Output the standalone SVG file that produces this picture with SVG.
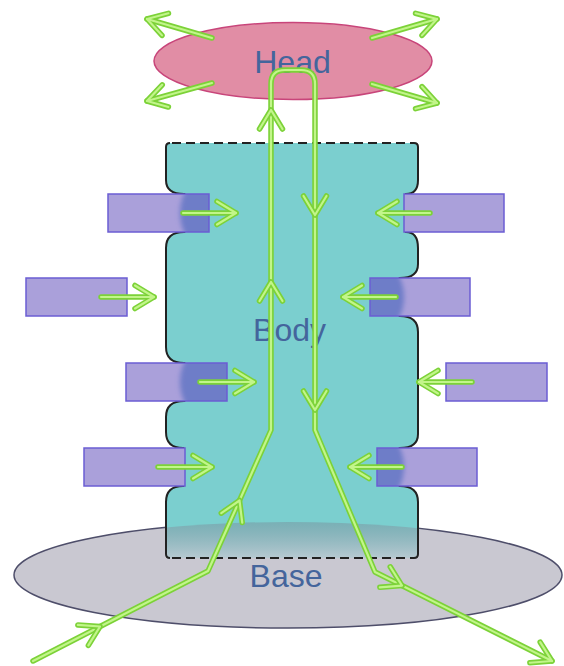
<svg xmlns="http://www.w3.org/2000/svg" xmlns:xlink="http://www.w3.org/1999/xlink" width="564" height="666" viewBox="0 0 564 666">
<style>
.g1{fill:none;stroke:#7cd238;stroke-width:5.5;stroke-linecap:round;stroke-linejoin:round}
.g2{fill:none;stroke:#c2f58a;stroke-width:2.2;stroke-linecap:round;stroke-linejoin:round}
.box{fill:#aaa0da;stroke:none}
.bs{fill:none;stroke:#6b5dd3;stroke-width:1.5}
.ov{fill:#6e7dc8}
.edge{fill:none;stroke:#222;stroke-width:2}
.dash{fill:none;stroke:#222;stroke-width:2;stroke-dasharray:9 5}
.lbl{font-family:"Liberation Sans",Arial,sans-serif;font-size:32px;fill:#44659c;text-anchor:middle}
</style>
<defs>
<marker id="ah" markerUnits="userSpaceOnUse" markerWidth="40" markerHeight="40" viewBox="-30 -20 40 40" refX="0" refY="0" orient="auto" overflow="visible">
<path class="g1" d="M-19,-11.5 L0,0 L-19,11.5"/>
<path class="g2" d="M-19,-11.5 L0,0 L-19,11.5"/>
</marker>
<g id="chev">
<path class="g1" d="M-19,-11.5 L0,0 L-19,11.5"/>
<path class="g2" d="M-19,-11.5 L0,0 L-19,11.5"/>
</g>
<path id="bodyShape" d="M170,143 L414,143 Q418,143 418,147 L418,180 Q418,194 406,194 Q410,213 406,232 Q418,232 418,248 L418,264 Q418,278 400,278 Q408,297 400,316 Q418,316 418,332 L418,434 Q418,448 400,448 Q408,467 400,486 Q418,486 418,502 L418,554 Q418,558 414,558 L170,558 Q166,558 166,554 L166,502 Q166,486 183,486 Q176,467 183,448 Q166,448 166,432 L166,417 Q166,401 184,401 Q176,382 184,363 Q166,363 166,347 L166,248 Q166,232 184,232 Q176,213 184,194 Q166,194 166,180 L166,147 Q166,143 170,143 Z"/>
<clipPath id="bodyClip"><use xlink:href="#bodyShape"/></clipPath>
<clipPath id="cL1"><rect x="108" y="194" width="101" height="38"/></clipPath>
<clipPath id="cR2"><rect x="370" y="278" width="100" height="38"/></clipPath>
<clipPath id="cL3"><rect x="126" y="363" width="101" height="38"/></clipPath>
<clipPath id="cR4"><rect x="377" y="448" width="100" height="38"/></clipPath>
<filter id="soft" x="-0.2" y="-0.5" width="1.4" height="2"><feGaussianBlur stdDeviation="2.5 0"/></filter>
<linearGradient id="baseGrad" gradientUnits="userSpaceOnUse" x1="0" y1="518" x2="0" y2="558">
<stop offset="0" stop-color="#6f8f9a" stop-opacity="0.5"/>
<stop offset="1" stop-color="#c6c8d2" stop-opacity="0.8"/>
</linearGradient>
</defs>

<g id="base">
<ellipse cx="288" cy="575" rx="274" ry="53" fill="#c9c8d1" stroke="#4e4e6a" stroke-width="1.5"/>
</g>

<g id="head">
<ellipse cx="293" cy="61" rx="139" ry="38.5" fill="#e18da5" stroke="#c8457a" stroke-width="1.5"/>
<text class="lbl" x="292.5" y="73">Head</text>
</g>

<g id="body">
<use xlink:href="#bodyShape" fill="#7bcfcf"/>
<ellipse cx="288" cy="575" rx="274" ry="53" fill="url(#baseGrad)" clip-path="url(#bodyClip)"/>
<path class="edge" d="M170,143 Q166,143 166,147 L166,180 Q166,194 184,194 Q176,213 184,232 Q166,232 166,248 L166,347 Q166,363 184,363 Q176,382 184,401 Q166,401 166,417 L166,432 Q166,448 183,448 Q176,467 183,486 Q166,486 166,502 L166,554 Q166,558 170,558"/>
<path class="edge" d="M414,143 Q418,143 418,147 L418,180 Q418,194 406,194 Q410,213 406,232 Q418,232 418,248 L418,264 Q418,278 400,278 Q408,297 400,316 Q418,316 418,332 L418,434 Q418,448 400,448 Q408,467 400,486 Q418,486 418,502 L418,554 Q418,558 414,558"/>
<path class="dash" d="M172,143 L414,143"/>
<path class="dash" d="M172,558 L414,558"/>
<text class="lbl" x="289.5" y="341">Body</text>
</g>
<text class="lbl" x="286" y="587">Base</text>

<g id="boxL1"><rect class="box" x="108" y="194" width="101" height="38"/><g clip-path="url(#cL1)"><g filter="url(#soft)"><rect class="ov" x="98" y="194" width="121" height="38" clip-path="url(#bodyClip)"/></g></g><rect class="bs" x="108" y="194" width="101" height="38"/></g>
<g id="boxR1"><rect class="box" x="404" y="194" width="100" height="38"/><rect class="bs" x="404" y="194" width="100" height="38"/></g>
<g id="boxL2"><rect class="box" x="26" y="278" width="101" height="38"/><rect class="bs" x="26" y="278" width="101" height="38"/></g>
<g id="boxR2"><rect class="box" x="370" y="278" width="100" height="38"/><g clip-path="url(#cR2)"><g filter="url(#soft)"><rect class="ov" x="360" y="278" width="120" height="38" clip-path="url(#bodyClip)"/></g></g><rect class="bs" x="370" y="278" width="100" height="38"/></g>
<g id="boxL3"><rect class="box" x="126" y="363" width="101" height="38"/><g clip-path="url(#cL3)"><g filter="url(#soft)"><rect class="ov" x="116" y="363" width="121" height="38" clip-path="url(#bodyClip)"/></g></g><rect class="bs" x="126" y="363" width="101" height="38"/></g>
<g id="boxR3"><rect class="box" x="446" y="363" width="101" height="38"/><rect class="bs" x="446" y="363" width="101" height="38"/></g>
<g id="boxL4"><rect class="box" x="84" y="448" width="101" height="38"/><rect class="bs" x="84" y="448" width="101" height="38"/></g>
<g id="boxR4"><rect class="box" x="377" y="448" width="100" height="38"/><g clip-path="url(#cR4)"><g filter="url(#soft)"><rect class="ov" x="367" y="448" width="120" height="38" clip-path="url(#bodyClip)"/></g></g><rect class="bs" x="377" y="448" width="100" height="38"/></g>

<g id="connectors">
<path class="g1" marker-end="url(#ah)" d="M212,38 L147,19"/><path class="g2" d="M212,38 L147,19"/>
<path class="g1" marker-end="url(#ah)" d="M372,38 L437,19"/><path class="g2" d="M372,38 L437,19"/>
<path class="g1" marker-end="url(#ah)" d="M212,83 L147,101"/><path class="g2" d="M212,83 L147,101"/>
<path class="g1" marker-end="url(#ah)" d="M372,84 L437,103"/><path class="g2" d="M372,84 L437,103"/>

<path class="g1" marker-end="url(#ah)" d="M183,213 L236,213"/><path class="g2" d="M183,213 L236,213"/>
<path class="g1" marker-end="url(#ah)" d="M430,213 L378,213"/><path class="g2" d="M430,213 L378,213"/>
<path class="g1" marker-end="url(#ah)" d="M101,297 L154,297"/><path class="g2" d="M101,297 L154,297"/>
<path class="g1" marker-end="url(#ah)" d="M396,297 L343,297"/><path class="g2" d="M396,297 L343,297"/>
<path class="g1" marker-end="url(#ah)" d="M200,382 L254,382"/><path class="g2" d="M200,382 L254,382"/>
<path class="g1" marker-end="url(#ah)" d="M472,382 L419,382"/><path class="g2" d="M472,382 L419,382"/>
<path class="g1" marker-end="url(#ah)" d="M158,467 L212,467"/><path class="g2" d="M158,467 L212,467"/>
<path class="g1" marker-end="url(#ah)" d="M402,467 L350,467"/><path class="g2" d="M402,467 L350,467"/>

<path class="g1" marker-end="url(#ah)" d="M33,661 L208,571 L271,430 L271,84 Q271,70 285,70 L301,70 Q315,70 315,84 L315,430 L375,572 L552,661"/>
<path class="g2" d="M33,661 L208,571 L271,430 L271,84 Q271,70 285,70 L301,70 Q315,70 315,84 L315,430 L375,572 L552,661"/>
<use xlink:href="#chev" transform="translate(100,626.5) rotate(-27.2)"/>
<use xlink:href="#chev" transform="translate(239.5,500.5) rotate(-65.9)"/>
<use xlink:href="#chev" transform="translate(271,282) rotate(-90)"/>
<use xlink:href="#chev" transform="translate(271,110) rotate(-90)"/>
<use xlink:href="#chev" transform="translate(315,215) rotate(90)"/>
<use xlink:href="#chev" transform="translate(315,410) rotate(90)"/>
<use xlink:href="#chev" transform="translate(402,585.6) rotate(26.8)"/>
</g>
</svg>
